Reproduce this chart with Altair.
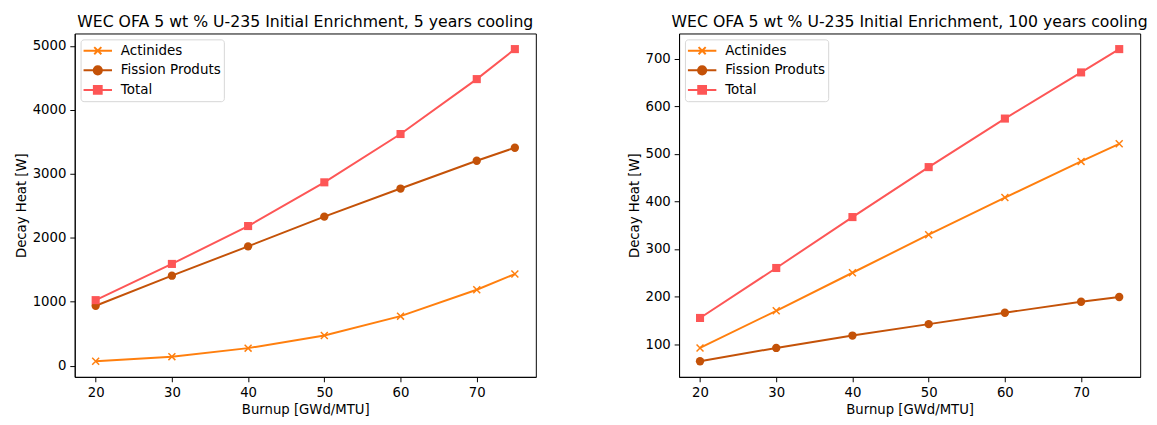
import altair as alt
import pandas as pd

# ---- data ----
burnup = [20, 30, 40, 50, 60, 70, 75]
series_names = ["Actinides", "Fission Produts", "Total"]

act_5 = [71, 143, 276, 474, 776, 1189, 1434]
fp_5 = [939, 1408, 1867, 2332, 2770, 3204, 3408]
tot_5 = [1026, 1592, 2184, 2867, 3622, 4480, 4949]

act_100 = [92, 170, 250, 330, 408, 484, 521]
fp_100 = [64, 92, 118, 142, 166, 189, 199]
tot_100 = [155, 260, 367, 472, 574, 671, 720]

x_ticks = [20, 30, 40, 50, 60, 70]
y_ticks_5 = [0, 1000, 2000, 3000, 4000, 5000]
y_ticks_100 = [100, 200, 300, 400, 500, 600, 700]

titles = [
    "WEC OFA 5 wt % U-235 Initial Enrichment, 5 years cooling",
    "WEC OFA 5 wt % U-235 Initial Enrichment, 100 years cooling",
]

# ---- styling ----
colors = ["#ff7f0e", "#c45208", "#fd5656"]
FONT = "DejaVu Sans"
X_PATH = "M-1,-1L1,1M-1,1L1,-1"
marker_shapes = [X_PATH, "circle", "square"]
marker_sizes = [50, 72, 68]
# legend glyphs: a line with the marker at its middle (units of sqrt(size)/2)
LEG_PATHS = [
    "M-1.17,0L2.83,0M0.33,-0.5L1.33,0.5M0.33,0.5L1.33,-0.5",
    "M-1.17,0L2.83,0M0.25,0A0.58,0.58,0,1,0,1.41,0A0.58,0.58,0,1,0,0.25,0Z",
    "M-1.17,0L2.83,0M0.28,-0.55L1.38,-0.55L1.38,0.55L0.28,0.55Z",
]


def margin_domain(vals, frac=0.05):
    lo, hi = min(vals), max(vals)
    pad = frac * (hi - lo)
    return [lo - pad, hi + pad]


def panel(title, a, f, t, yticks):
    df = pd.DataFrame({
        "burnup": burnup * 3,
        "heat": a + f + t,
        "series": [n for n in series_names for _ in burnup],
    })
    x = alt.X("burnup:Q", title="Burnup [GWd/MTU]",
              scale=alt.Scale(domain=margin_domain(burnup), nice=False, zero=False),
              axis=alt.Axis(values=x_ticks, format="d"))
    y = alt.Y("heat:Q", title="Decay Heat [W]",
              scale=alt.Scale(domain=margin_domain(a + f + t), nice=False, zero=False),
              axis=alt.Axis(values=yticks, format="d"))
    base = alt.Chart(df)
    layers = []
    for name, col in zip(series_names, colors):
        layers.append(
            base.transform_filter(alt.datum.series == name)
            .mark_line(strokeWidth=2, color=col)
            .encode(x=x, y=y)
        )
    for name, col, shp, sz in zip(series_names, colors, marker_shapes, marker_sizes):
        sub = base.transform_filter(alt.datum.series == name)
        if shp != X_PATH:
            mk = sub.mark_point(shape=shp, filled=True, color=col, size=sz, opacity=1)
        else:
            mk = sub.mark_point(shape=shp, filled=False, color=col, size=sz,
                                strokeWidth=1.5, opacity=1)
        layers.append(mk.encode(x=x, y=y))

    leg = alt.Legend(title=None, orient="top-left", offset=6, padding=3,
                     strokeColor="#d6d6d6", fillColor="white", cornerRadius=3,
                     symbolSize=210, symbolStrokeWidth=2, symbolOpacity=1,
                     labelFont=FONT, labelFontSize=13.7, labelColor="black",
                     labelOffset=21, rowPadding=3)
    legend_layer = base.mark_point(opacity=0, filled=True).encode(
        x=x, y=y,
        shape=alt.Shape("series:N", scale=alt.Scale(domain=series_names, range=LEG_PATHS), legend=leg),
        fill=alt.Fill("series:N", scale=alt.Scale(domain=series_names, range=colors), legend=leg),
        stroke=alt.Stroke("series:N", scale=alt.Scale(domain=series_names, range=colors), legend=leg),
    )
    layers.append(legend_layer)
    return alt.layer(*layers).properties(
        width=470, height=350,
        title=alt.Title(title, font=FONT, fontSize=16, fontWeight="normal", color="black",
                        anchor="middle", offset=4),
    )


left = panel(titles[0], act_5, fp_5, tot_5, y_ticks_5)
right = panel(titles[1], act_100, fp_100, tot_100, y_ticks_100)

chart = alt.hconcat(left, right, spacing=91).resolve_scale(
    shape="independent", fill="independent", stroke="independent"
).resolve_legend(
    shape="independent", fill="independent", stroke="independent"
).properties(
    padding={"left": 6, "top": 1, "right": 0, "bottom": 0}
).configure_view(
    stroke="black", strokeWidth=1
).configure_axis(
    grid=False, domainColor="black", tickColor="black", labelColor="black",
    titleColor="black", labelFont=FONT, titleFont=FONT, labelFontSize=13.5,
    titleFontSize=13.5, titleFontWeight="normal", tickSize=5, labelPadding=4,
    titlePadding=4, domainWidth=1, tickWidth=1,
)

chart.save("out.html", embed_options={"renderer": "svg", "actions": False})
